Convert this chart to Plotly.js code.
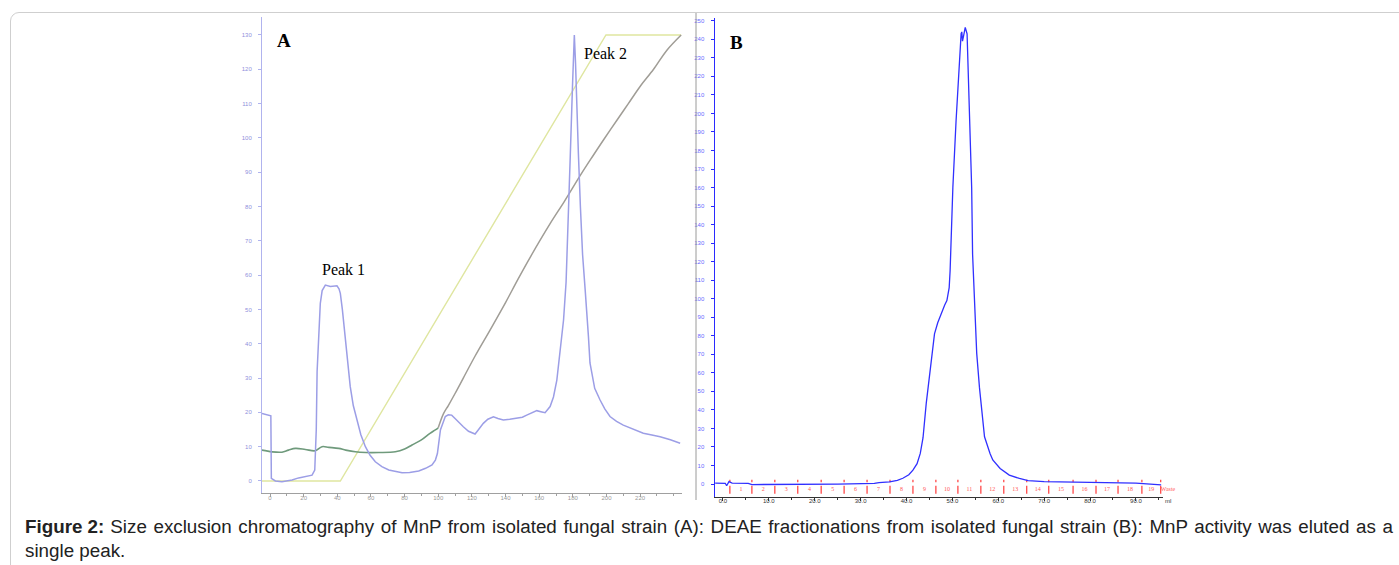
<!DOCTYPE html>
<html>
<head>
<meta charset="utf-8">
<script src="https://cdn.plot.ly/plotly-3.0.1.min.js"></script>
<style>
  html, body { margin:0; padding:0; background:#fff; }
  #wrap { position:relative; width:1399px; height:565px; overflow:hidden; }
  #chart { position:absolute; left:0; top:0; width:1399px; height:565px; }
  #frame { position:absolute; left:10px; top:12px; width:1420px; height:600px;
           border:1px solid #cfcfcf; border-radius:9px; pointer-events:none; }
  .cap { position:absolute; left:25px; width:1368px; height:24px;
         font-family:"Liberation Sans", Arial, sans-serif; font-size:18.8px;
         line-height:24px; color:#222; white-space:nowrap; }
  #cap1 { top:515px; display:flex; }
  #cap1 b { flex:none; }
  #cap1 span { flex:1; margin-left:6px; text-align:justify; text-align-last:justify; }
  #cap2 { top:539px; }
</style>
</head>
<body>
<div id="wrap">
  <div id="chart"></div>
  <div id="frame"></div>
  <div id="cap1" class="cap"><b>Figure 2:</b><span>Size exclusion chromatography of MnP from isolated fungal strain (A): DEAE fractionations from isolated fungal strain (B): MnP activity was eluted as a</span></div>
  <div id="cap2" class="cap">single peak.</div>
</div>
<script>
// ---------- Panel A : size exclusion chromatography ----------
const aUvX = [-4.8, 0.2, 0.5, 0.8, 3.2, 7.1, 13.1, 17, 22, 25, 26.6, 27.5, 28, 29, 29.9, 31, 32.9, 35.9, 38, 39.8, 41, 41.8, 43, 44.8, 46.2, 47.7, 49.5, 51.7, 54, 56.7, 59.5, 62.6, 66.5, 70.6, 74.5, 78.5, 83, 88.4, 92.5, 96.3, 98.3, 99.5, 101.3, 103, 104.2, 106, 108, 110, 112.2, 114.9, 118, 121.9, 124, 126.8, 129.5, 132.8, 135.5, 138.7, 142.5, 146.7, 150, 152.6, 155.5, 158.6, 161, 163.5, 166.5, 168.5, 170.5, 172.5, 174.5, 176, 177.5, 178.5, 179.8, 180.9, 181.6, 182.5, 183.3, 184.5, 185.8, 187.3, 188.3, 189.3, 190.2, 193, 196.2, 199, 202.1, 206, 210, 216, 221.9, 227, 231.9, 238, 243.8];
const aUvY = [19.7, 19.2, 19.0, 0.8, 0.0, -0.2, 0.3, 0.9, 1.3, 1.7, 3.2, 15, 32, 44, 51.8, 55.5, 57.1, 56.7, 56.8, 56.9, 56.0, 54.7, 50, 42, 34, 27.5, 22, 17.8, 13.5, 10, 7.5, 5.6, 4.2, 3.2, 2.7, 2.4, 2.5, 2.9, 3.7, 4.7, 6.1, 8, 14.9, 17.5, 18.8, 19.3, 19.2, 18.2, 17.0, 15.8, 14.5, 13.7, 15, 16.8, 18, 18.7, 18.2, 17.8, 18, 18.3, 18.6, 19.2, 19.8, 20.5, 20.2, 19.9, 21.7, 24.5, 29.4, 38, 47, 58, 77, 95, 115, 130, 122, 106, 95.6, 80, 66, 56, 50, 42, 34.4, 27, 23.6, 21, 18.8, 17.4, 16.3, 15, 13.9, 13.4, 12.9, 12, 11];

const aCondX = [-4.8, 1.2, 7.1, 11, 15.1, 21, 26.9, 30.9, 35, 40.8, 45, 50.7, 57, 64.6, 74.5, 80, 84.4, 90, 95.1, 98.3, 100];
const aCondY = [9.0, 8.5, 8.4, 9.0, 9.5, 9.2, 8.8, 10.0, 9.8, 9.5, 9.0, 8.5, 8.3, 8.3, 8.5, 9.3, 10.5, 12.0, 13.9, 14.9, 15.5];

const aRiseX = [100, 103, 106, 110, 114.9, 122, 130.8, 140, 147.6, 155, 166.5, 175, 185, 192, 198.2, 206, 213, 220, 228, 235.8, 244.4];
const aRiseY = [15.5, 19.5, 22, 25.5, 30, 36.5, 44, 52, 59, 65.5, 75, 81.5, 89.5, 94.8, 99.4, 105, 110, 115, 120, 125.5, 130];

const aGradX = [-4.8, 41.8, 199.7, 244.4];
const aGradY = [0, 0, 130, 130];

// ---------- Panel B : DEAE fractionation ----------
const bX = [-1.7, 0, 0.5, 0.8, 1.3, 2, 3, 5.5, 6.3, 10, 18, 25, 33, 34, 36.3, 38, 39.2, 40.5, 41.4, 42.3, 43.0, 43.6, 44.3, 45.4, 46.1, 46.8, 47.5, 48.3, 48.8, 49.3, 49.5, 50.1, 50.8, 51.2, 51.8, 51.9, 52.05, 52.2, 52.45, 52.7, 52.8, 53.2, 53.7, 54.2, 54.4, 55.0, 55.3, 55.9, 57.0, 58.2, 58.8, 60.4, 62.4, 64.6, 66.5, 70, 75, 80, 85, 90, 95.5];
const bY = [0.5, 0.5, 0.4, -0.9, 1.3, 0.5, 0.4, 0.4, -0.3, -0.3, 0.0, 0.0, 0.3, 0.8, 1.2, 2.0, 3.1, 5.0, 7.5, 11, 16.5, 25, 43.5, 65, 81, 87, 92, 96.5, 99, 106, 115, 160, 196, 214, 239, 243, 244, 239, 242, 245.5, 246.4, 243, 196, 160, 124, 92, 70.5, 52, 25.5, 16.5, 13, 8.4, 4.8, 3.0, 1.8, 1.3, 1.2, 1.0, 0.8, 0.5, -0.5];

const fracEdges = [1.5, 6.3, 11.3, 16.3, 21.4, 26.4, 31.4, 36.4, 41.4, 46.4, 51.2, 56.2, 61.2, 66.2, 71.0, 76.3, 81.3, 86.1, 91.3, 95.4];
const fracLabels = ["1","2","3","4","5","6","7","8","9","10","11","12","13","14","15","16","17","18","19"];
const wasteLabel = "Waste";

const aXTicks = [0, 20, 40, 60, 80, 100, 120, 140, 160, 180, 200, 220];

// ---------- build traces ----------
const fx = [], fy = [];
fracEdges.forEach(e => { fx.push(e, e, null); fy.push(2.3, -5.6, null); });
const fcx = [], fct = [];
for (let i = 0; i < fracLabels.length; i++) { fcx.push((fracEdges[i] + fracEdges[i+1]) / 2); fct.push(fracLabels[i]); }

const traces = [
  {x: aGradX, y: aGradY, xaxis:'x', yaxis:'y', mode:'lines', line:{color:'#dfe6a0', width:1.4}, hoverinfo:'skip'},
  {x: aCondX, y: aCondY, xaxis:'x', yaxis:'y', mode:'lines', line:{color:'#6f9a7c', width:1.6, shape:'spline'}, hoverinfo:'skip'},
  {x: aRiseX, y: aRiseY, xaxis:'x', yaxis:'y', mode:'lines', line:{color:'#a09d96', width:1.5, shape:'spline'}, hoverinfo:'skip'},
  {x: aUvX, y: aUvY, xaxis:'x', yaxis:'y', mode:'lines', line:{color:'#9c9ee6', width:1.5}, hoverinfo:'skip'},
  {x: fx, y: fy, xaxis:'x2', yaxis:'y2', mode:'lines', line:{color:'#ff3b3b', width:1.2, dash:'2.5px,3.5px,8px'}, hoverinfo:'skip'},
  {x: fcx, y: fcx.map(() => -2.7), text: fct, xaxis:'x2', yaxis:'y2', mode:'text', textfont:{color:'#ff5a5a', size:6, family:'Liberation Serif'}, cliponaxis:false, hoverinfo:'skip'},
  {x: [fracEdges[fracEdges.length-1]], y: [-2.7], text:[wasteLabel], xaxis:'x2', yaxis:'y2', mode:'text', textposition:'middle right', textfont:{color:'#ff5a5a', size:6, family:'Liberation Serif'}, cliponaxis:false, hoverinfo:'skip'},
  {x: bX, y: bY, xaxis:'x2', yaxis:'y2', mode:'lines', line:{color:'#3030ff', width:1.3}, hoverinfo:'skip'}
];

const W = 1399, H = 565;
const px = v => v / W, py = v => 1 - v / H;

const layout = {
  width: W, height: H,
  margin: {l:0, r:0, t:0, b:0},
  paper_bgcolor: 'rgba(0,0,0,0)', plot_bgcolor: 'rgba(0,0,0,0)',
  showlegend: false,
  font: {family: 'Liberation Sans, Arial, sans-serif'},
  xaxis: {
    domain: [px(262), px(682)], range: [-4.76, 244.9], anchor: 'y',
    showline: true, linecolor: '#a0a0a0', linewidth: 1,
    ticks: 'outside', ticklen: 3, tickcolor: '#a0a0a0',
    tickvals: aXTicks, tickfont: {size: 6, color: '#9a9a9a'}, ticklabelstandoff: -4,
    minor: {dtick: 10, tick0: 0, ticks: 'outside', ticklen: 2, tickcolor: '#a0a0a0'},
    showgrid: false, zeroline: false, fixedrange: true
  },
  yaxis: {
    domain: [py(493), py(17)], range: [-3.5, 135.24], anchor: 'x',
    showline: true, linecolor: '#b0b3ee', linewidth: 1,
    ticks: 'outside', ticklen: 3, tickcolor: '#b0b3ee', dtick: 10, tick0: 0,
    tickfont: {size: 6, color: '#8f90dc'}, ticklabelstandoff: 5,
    showgrid: false, zeroline: false, fixedrange: true
  },
  xaxis2: {
    domain: [px(715), px(1163)], range: [-1.74, 95.9], anchor: 'y2',
    showline: true, linecolor: '#333', linewidth: 1,
    ticks: 'outside', ticklen: 3, tickcolor: '#333', dtick: 10, tick0: 0, tickformat: '.1f',
    tickfont: {size: 6, color: '#333'}, ticklabelstandoff: -5,
    minor: {dtick: 5, tick0: 0, ticks: 'outside', ticklen: 2, tickcolor: '#333'},
    showgrid: false, zeroline: false, fixedrange: true
  },
  yaxis2: {
    domain: [py(497), py(18)], range: [-7, 251.5], anchor: 'x2',
    showline: true, linecolor: '#2a2aff', linewidth: 1.5,
    ticks: 'outside', ticklen: 3, tickcolor: '#2a2aff', dtick: 10, tick0: 0,
    tickfont: {size: 6, color: '#6a6aff'}, ticklabelstandoff: 5,
    showgrid: false, zeroline: false, fixedrange: true
  },
  shapes: [
    {type: 'line', xref: 'paper', yref: 'paper', x0: px(696), x1: px(696), y0: py(500), y1: py(13), line: {color: '#9a9a9a', width: 1}}
  ],
  annotations: [
    {text: '<b>A</b>', xref: 'paper', yref: 'paper', x: px(284), y: py(40), xanchor: 'center', yanchor: 'middle', showarrow: false, font: {family: 'Liberation Serif, Times New Roman, serif', size: 19, color: '#000'}},
    {text: '<b>B</b>', xref: 'paper', yref: 'paper', x: px(737), y: py(43), xanchor: 'center', yanchor: 'middle', showarrow: false, font: {family: 'Liberation Serif, Times New Roman, serif', size: 19, color: '#000'}},
    {text: 'Peak 1', xref: 'x', yref: 'y', x: 43.4, y: 61.5, showarrow: false, font: {family: 'Liberation Serif, Times New Roman, serif', size: 16, color: '#000'}},
    {text: 'Peak 2', xref: 'x', yref: 'y', x: 199.2, y: 124.7, showarrow: false, font: {family: 'Liberation Serif, Times New Roman, serif', size: 16, color: '#000'}},
    {text: 'ml', xref: 'paper', yref: 'paper', x: px(1163), y: py(501), xanchor: 'left', yanchor: 'middle', showarrow: false, font: {size: 6, color: '#333'}}
  ]
};

Plotly.newPlot('chart', traces, layout, {staticPlot: true, displayModeBar: false});
</script>
</body>
</html>
